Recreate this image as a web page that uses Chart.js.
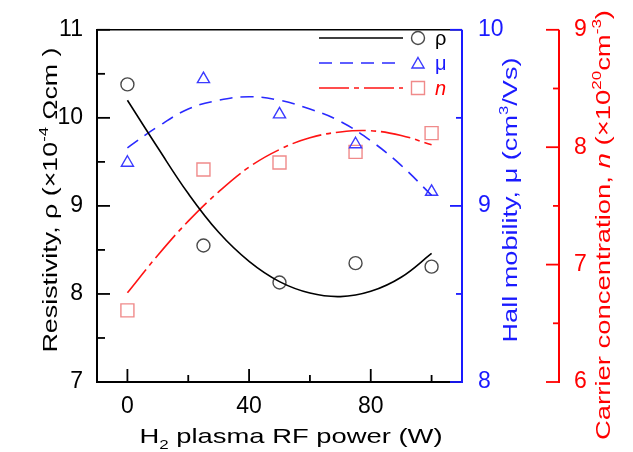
<!DOCTYPE html>
<html><head><meta charset="utf-8">
<script src="https://cdn.jsdelivr.net/npm/chart.js@4.4.1/dist/chart.umd.min.js"></script>
<style>html,body{margin:0;padding:0;background:#fff}canvas{display:block}</style>
</head><body>
<canvas id="c" width="633" height="452"></canvas>
<script>
// ---- data ----
const powerW  = [0, 25, 50, 75, 100];
const rhoVals = [10.38, 8.55, 8.13, 8.35, 8.31];
const muVals  = [9.245, 9.72, 9.52, 9.35, 9.08];
const nVals   = [6.61, 7.81, 7.87, 7.96, 8.12];

const fitW   = [0, 10, 20, 30, 40, 50, 60, 70, 80, 90, 100];
const rhoFit = [10.20, 9.66, 9.14, 8.70, 8.37, 8.14, 8.01, 7.97, 8.03, 8.19, 8.46];
const muFit  = [9.33, 9.45, 9.55, 9.60, 9.62, 9.60, 9.55, 9.48, 9.37, 9.23, 9.06];
const nFit   = [6.76, 7.08, 7.37, 7.62, 7.83, 7.98, 8.08, 8.13, 8.14, 8.10, 8.02];

const xTicks   = [0, 40, 80];       const xMinor   = [20, 60, 100];
const rhoTicks = [7, 8, 9, 10, 11]; const rhoMinor = [7.5, 8.5, 9.5, 10.5];
const muTicks  = [8, 9, 10];        const muMinor  = [8.5, 9.5];
const nTicks   = [6, 7, 8, 9];      const nMinor   = [6.5, 7.5, 8.5];

const legendLabels = ['ρ', 'μ', 'n'];
const xTitle   = [{t:'H'}, {t:'2', sub:true}, {t:' plasma RF power (W)'}];
const rhoTitle = [{t:'Resistivity, ρ (×10'}, {t:'-4', sup:true}, {t:' Ωcm )'}];
const muTitle  = [{t:'Hall mobility, μ (cm'}, {t:'3', sup:true}, {t:'/Vs)'}];
const nTitle   = [{t:'Carrier concentration, '}, {t:'n', it:true}, {t:' (×10'}, {t:'20', sup:true}, {t:'cm'}, {t:'-3', sup:true}, {t:')'}];

// ---- styles ----
const FAM = "'Liberation Sans', Arial, sans-serif";
const BLACK = '#000000', BLUE = '#1a1aff', RED = '#ff0000';
const LINE_BLUE = '#2a2aff', LINE_RED = '#ff1414';
const MK_GRAY = '#4a4a4a', MK_BLUE = '#3a3aff', MK_RED = '#f08a8a';
const DASH_MU = [13, 8], DASH_N = [30, 5, 5, 5];
const TICK_FONT = {family: FAM, size: 23};

function segFont(seg, size) {
  const s = (seg.sup || seg.sub) ? Math.round(size * 0.62) : size;
  return (seg.it ? 'italic ' : '') + s + 'px ' + FAM;
}
function drawRich(ctx, segs, cx, cy, rot, size, color, targetLen) {
  ctx.save();
  ctx.translate(cx, cy);
  ctx.rotate(rot);
  let total = 0; const widths = [];
  for (const s of segs) { ctx.font = segFont(s, size); const w = ctx.measureText(s.t).width; widths.push(w); total += w; }
  const k = targetLen ? targetLen / total : 1;
  ctx.scale(k, 1);
  ctx.fillStyle = color; ctx.textBaseline = 'alphabetic'; ctx.textAlign = 'left';
  let x = -total / 2;
  segs.forEach((s, i) => {
    ctx.font = segFont(s, size);
    const dy = s.sup ? -size * 0.42 : (s.sub ? size * 0.28 : 0);
    ctx.fillText(s.t, x, dy);
    x += widths[i];
  });
  ctx.restore();
}
function marker(ctx, type, x, y, color) {
  ctx.save(); ctx.strokeStyle = color; ctx.lineWidth = 1.4; ctx.setLineDash([]);
  ctx.beginPath();
  if (type === 'circle') ctx.arc(x, y, 6.5, 0, Math.PI * 2);
  else if (type === 'triangle') { const r = 7; ctx.moveTo(x, y - r); ctx.lineTo(x + 0.866 * r, y + r / 2); ctx.lineTo(x - 0.866 * r, y + r / 2); ctx.closePath(); }
  else ctx.rect(x - 6.5, y - 6.5, 13, 13);
  ctx.stroke(); ctx.restore();
}

const framePlugin = {
  id: 'frame',
  afterDraw(chart) {
    const ctx = chart.ctx;
    const {left, right, top, bottom} = chart.chartArea;
    const sx = chart.scales.x, sy = chart.scales.y, s1 = chart.scales.y1, s2 = chart.scales.y2;
    const redX = s2.left;
    ctx.save();
    ctx.lineCap = 'butt';
    const seg = (x0, y0, x1, y1, c, w) => { ctx.strokeStyle = c; ctx.lineWidth = w; ctx.beginPath(); ctx.moveTo(x0, y0); ctx.lineTo(x1, y1); ctx.stroke(); };
    rhoTicks.forEach(v => { const p = sy.getPixelForValue(v); seg(left, p, left + 13, p, BLACK, 1.8); });
    rhoMinor.forEach(v => { const p = sy.getPixelForValue(v); seg(left, p, left + 8, p, BLACK, 1.8); });
    xTicks.forEach(v => { const p = sx.getPixelForValue(v); seg(p, bottom, p, bottom - 13, BLACK, 1.8); });
    xMinor.forEach(v => { const p = sx.getPixelForValue(v); seg(p, bottom, p, bottom - 7, BLACK, 1.8); });
    seg(left, top, left, bottom + 1, BLACK, 2);
    seg(left - 1, bottom, right, bottom, BLACK, 2);
    seg(left - 1, top, right, top, BLACK, 1.6);
    seg(right, top, right, bottom + 1, BLUE, 2);
    muTicks.forEach(v => { const p = s1.getPixelForValue(v); seg(right, p, right - 12, p, BLUE, 1.8); });
    muMinor.forEach(v => { const p = s1.getPixelForValue(v); seg(right, p, right - 6, p, BLUE, 1.8); });
    seg(redX, top, redX, bottom + 1, RED, 2);
    nTicks.forEach(v => { const p = s2.getPixelForValue(v); seg(redX, p, redX - 13, p, RED, 1.8); });
    nMinor.forEach(v => { const p = s2.getPixelForValue(v); seg(redX, p, redX - 6, p, RED, 1.8); });

    drawRich(ctx, xTitle, 291, 443, 0, 21, BLACK, 303);
    drawRich(ctx, rhoTitle, 57, 200, -Math.PI / 2, 21, BLACK, 305);
    drawRich(ctx, muTitle, 517, 200, -Math.PI / 2, 21, BLUE, 285);
    drawRich(ctx, nTitle, 610, 225, -Math.PI / 2, 21, RED, 430);

    const rows = [
      {y: 38, c: BLACK, dash: [], mk: 'circle', mc: MK_GRAY, tc: BLACK, it: false},
      {y: 63, c: LINE_BLUE, dash: DASH_MU, mk: 'triangle', mc: MK_BLUE, tc: BLUE, it: false},
      {y: 88, c: LINE_RED, dash: DASH_N, mk: 'rect', mc: MK_RED, tc: RED, it: true}
    ];
    rows.forEach((r, i) => {
      ctx.save(); ctx.setLineDash(r.dash); ctx.strokeStyle = r.c; ctx.lineWidth = 1.6;
      ctx.beginPath(); ctx.moveTo(319, r.y); ctx.lineTo(403, r.y); ctx.stroke(); ctx.restore();
      marker(ctx, r.mk, 418, r.y + (r.mk === 'triangle' ? 1.5 : 0), r.mc);
      ctx.fillStyle = r.tc; ctx.font = (r.it ? 'italic ' : '') + '20px ' + FAM;
      ctx.textAlign = 'left'; ctx.textBaseline = 'middle';
      ctx.fillText(legendLabels[i], 435, r.y + 1);
    });
    ctx.restore();
  }
};

const pts = (xs, ys) => xs.map((x, i) => ({x, y: ys[i]}));
const setTicks = arr => s => { s.ticks = arr.map(v => ({value: v})); };

new Chart(document.getElementById('c'), {
  type: 'scatter',
  data: {
    datasets: [
      {label: 'ρ fit', data: pts(fitW, rhoFit), yAxisID: 'y', showLine: true, borderColor: BLACK, borderWidth: 1.6, pointRadius: 0, tension: 0.4, fill: false},
      {label: 'μ fit', data: pts(fitW, muFit), yAxisID: 'y1', showLine: true, borderColor: LINE_BLUE, borderWidth: 1.6, borderDash: DASH_MU, pointRadius: 0, tension: 0.4, fill: false},
      {label: 'n fit', data: pts(fitW, nFit), yAxisID: 'y2', showLine: true, borderColor: LINE_RED, borderWidth: 1.6, borderDash: DASH_N, pointRadius: 0, tension: 0.4, fill: false},
      {label: 'ρ', data: pts(powerW, rhoVals), yAxisID: 'y', showLine: false, pointStyle: 'circle', pointRadius: 6.5, borderColor: MK_GRAY, backgroundColor: 'rgba(0,0,0,0)', borderWidth: 1.4},
      {label: 'μ', data: pts(powerW, muVals), yAxisID: 'y1', showLine: false, pointStyle: 'triangle', pointRadius: 7, borderColor: MK_BLUE, backgroundColor: 'rgba(0,0,0,0)', borderWidth: 1.4},
      {label: 'n', data: pts(powerW, nVals), yAxisID: 'y2', showLine: false, pointStyle: 'rect', pointRadius: 9.2, borderColor: MK_RED, backgroundColor: 'rgba(0,0,0,0)', borderWidth: 1.4}
    ]
  },
  options: {
    responsive: false, animation: false, devicePixelRatio: 1,
    layout: {padding: {top: 20, left: 0, right: 0, bottom: 0}},
    plugins: {legend: {display: false}, tooltip: {enabled: false}},
    scales: {
      x: {type: 'linear', position: 'bottom', min: -10, max: 110,
          grid: {display: false, drawTicks: false}, border: {display: false},
          afterBuildTicks: setTicks(xTicks), afterFit: s => { s.height = 70; },
          ticks: {padding: 11, color: BLACK, font: TICK_FONT, maxRotation: 0, callback: v => String(v)}},
      y: {type: 'linear', position: 'left', min: 7, max: 11,
          grid: {display: false, drawTicks: false}, border: {display: false},
          afterBuildTicks: setTicks(rhoTicks), afterFit: s => { s.width = 97; },
          ticks: {padding: 14, color: BLACK, font: TICK_FONT, callback: v => String(v)}},
      y1: {type: 'linear', position: 'right', min: 8, max: 10,
          grid: {display: false, drawTicks: false}, border: {display: false},
          afterBuildTicks: setTicks(muTicks), afterFit: s => { s.width = 97; },
          ticks: {padding: 16, color: BLUE, font: TICK_FONT, callback: v => String(v)}},
      y2: {type: 'linear', position: 'right', min: 6, max: 9,
          grid: {display: false, drawTicks: false}, border: {display: false},
          afterBuildTicks: setTicks(nTicks), afterFit: s => { s.width = 74; },
          ticks: {padding: 15, color: RED, font: TICK_FONT, callback: v => String(v)}}
    }
  },
  plugins: [framePlugin]
});
</script>
</body></html>
